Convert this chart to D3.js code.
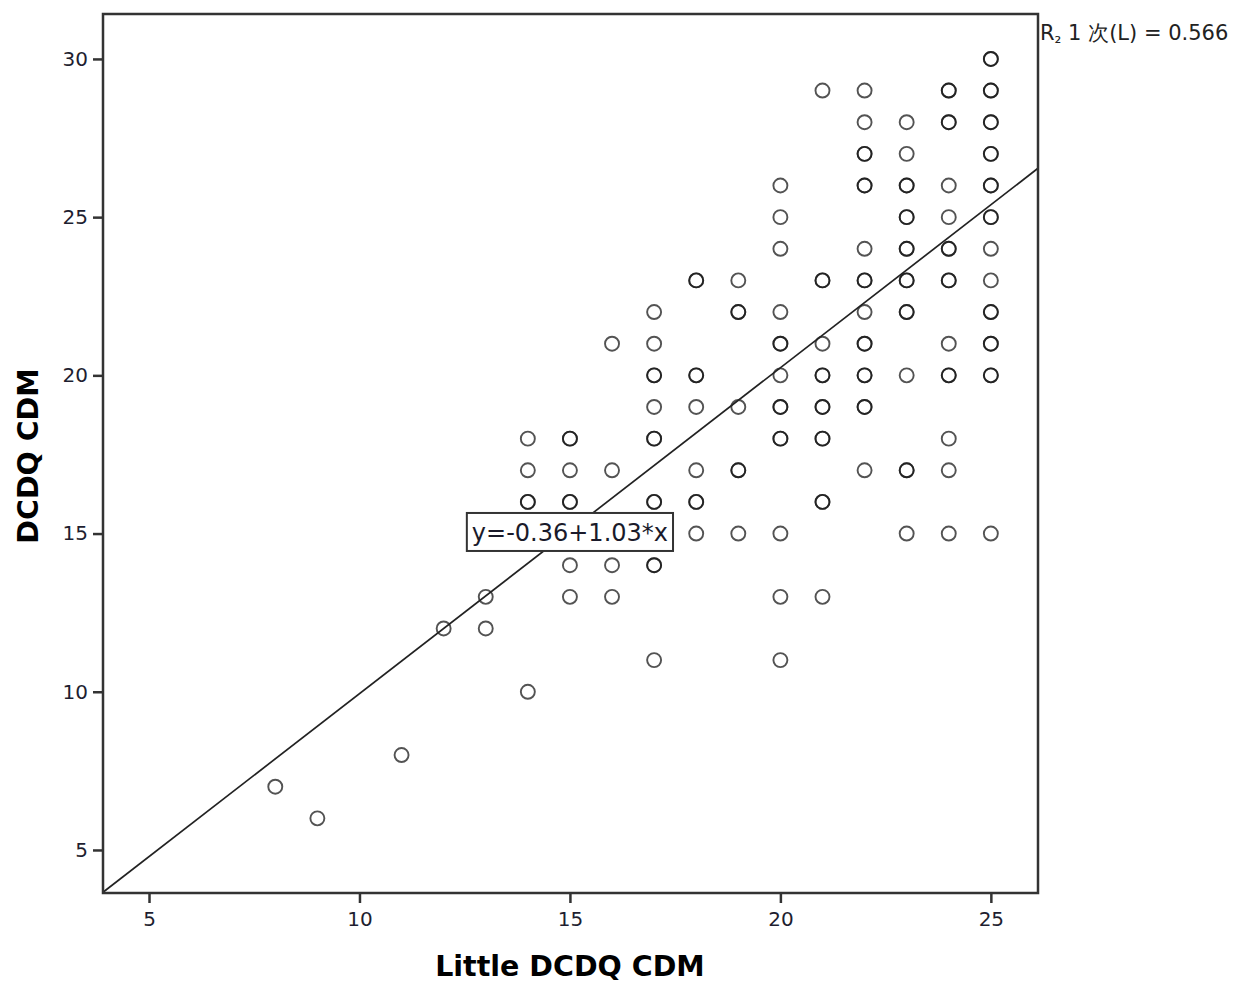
<!DOCTYPE html>
<meta http-equiv="Content-type" content="text/html; charset=UTF-8"/>
<style>
  body { margin: 0; background: #fff; }
  * { font-family: 'DejaVu Sans', sans-serif; }
</style>
<svg width="1242" height="983"></svg>
<script src="https://d3js.org/d3.v7.min.js"></script>
<script>
// x = Little DCDQ CDM, y = DCDQ CDM (repeated pairs = overlapping cases)
var littleCDM = [
  8, 9, 11, 12, 13, 13,
  14, 14, 14, 14, 14,
  15, 15, 15, 15, 15, 15, 15,
  16, 16, 16, 16,
  17, 17, 17, 17, 17, 17, 17, 17, 17, 17, 17, 17,
  18, 18, 18, 18, 18, 18, 18, 18, 18,
  19, 19, 19, 19, 19, 19, 19,
  20, 20, 20, 20, 20, 20, 20, 20, 20, 20, 20, 20, 20, 20,
  21, 21, 21, 21, 21, 21, 21, 21, 21, 21, 21, 21, 21,
  22, 22, 22, 22, 22, 22, 22, 22, 22, 22, 22, 22, 22, 22, 22, 22, 22,
  23, 23, 23, 23, 23, 23, 23, 23, 23, 23, 23, 23, 23, 23, 23, 23,
  24, 24, 24, 24, 24, 24, 24, 24, 24, 24, 24, 24, 24, 24, 24, 24,
  25, 25, 25, 25, 25, 25, 25, 25, 25, 25, 25, 25, 25, 25, 25, 25, 25, 25, 25, 25, 25
];
var dcdqCDM = [
  7, 6, 8, 12, 13, 12,
  18, 17, 16, 16, 10,
  18, 18, 17, 16, 16, 14, 13,
  21, 17, 14, 13,
  22, 21, 20, 20, 19, 18, 18, 16, 16, 14, 14, 11,
  23, 23, 20, 20, 19, 17, 16, 16, 15,
  23, 22, 22, 19, 17, 17, 15,
  26, 25, 24, 22, 21, 21, 20, 19, 19, 18, 18, 15, 13, 11,
  29, 23, 23, 21, 20, 20, 19, 19, 18, 18, 16, 16, 13,
  29, 28, 27, 27, 26, 26, 24, 23, 23, 22, 21, 21, 20, 20, 19, 19, 17,
  28, 27, 26, 26, 25, 25, 24, 24, 23, 23, 22, 22, 20, 17, 17, 15,
  29, 29, 28, 28, 26, 25, 24, 24, 23, 23, 21, 20, 20, 18, 17, 15,
  30, 30, 29, 29, 28, 28, 27, 27, 26, 26, 25, 25, 24, 23, 22, 22, 21, 21, 20, 20, 15
];
var xTicks = [5, 10, 15, 20, 25];
var yTicks = [5, 10, 15, 20, 25, 30];
var intercept = -0.36, slope = 1.03;
var fitLabel = "y=-0.36+1.03*x";
var r2Label = "1 次(L) = 0.566";

var svg = d3.select("svg"),
    margin = {top: 14, right: 204, bottom: 90, left: 103},
    width = +svg.attr("width") - margin.left - margin.right,
    height = +svg.attr("height") - margin.top - margin.bottom,
    g = svg.append("g").attr("transform", "translate(" + margin.left + "," + margin.top + ")");

var x = d3.scaleLinear().domain([3.907, 26.12]).range([0, width]);
var y = d3.scaleLinear().domain([3.64, 31.42]).range([height, 0]);

var data = littleCDM.map(function(v, i) { return {x: v, y: dcdqCDM[i]}; });

// axes
var xAxis = g.append("g")
    .attr("transform", "translate(0," + height + ")")
    .call(d3.axisBottom(x).tickValues(xTicks).tickSize(10).tickSizeOuter(0).tickPadding(9));
var yAxis = g.append("g")
    .call(d3.axisLeft(y).tickValues(yTicks).tickSize(10).tickSizeOuter(0).tickPadding(5));
[xAxis, yAxis].forEach(function(a) {
  a.select(".domain").remove();
  a.selectAll("line").attr("stroke", "#333").attr("stroke-width", 2.5);
  a.selectAll("text").attr("fill", "#1e1e30").style("font-size", "20px");
});

// points
g.append("g").selectAll("circle")
    .data(data)
  .enter().append("circle")
    .attr("cx", function(d) { return x(d.x); })
    .attr("cy", function(d) { return y(d.y); })
    .attr("r", 7)
    .attr("fill", "none")
    .attr("stroke", "#111")
    .attr("stroke-opacity", 0.72)
    .attr("stroke-width", 1.9);

// fit line
var x0 = x.domain()[0], x1 = x.domain()[1];
g.append("line")
    .attr("x1", x(x0)).attr("y1", y(intercept + slope * x0))
    .attr("x2", x(x1)).attr("y2", y(intercept + slope * x1))
    .attr("stroke", "#222")
    .attr("stroke-width", 1.7);

// frame
g.append("rect")
    .attr("width", width).attr("height", height)
    .attr("fill", "none")
    .attr("stroke", "#333")
    .attr("stroke-width", 2.5);

// equation box
var eq = g.append("g").attr("transform", "translate(" + x(15) + "," + y(15.05) + ")");
var eqText = eq.append("text")
    .attr("text-anchor", "middle")
    .attr("dy", "0.36em")
    .attr("fill", "#1a1a2a")
    .style("font-size", "24px")
    .text(fitLabel);
var bb = eqText.node().getBBox();
eq.insert("rect", "text")
    .attr("x", bb.x - 5).attr("y", -19)
    .attr("width", bb.width + 10).attr("height", 38)
    .attr("fill", "#fff")
    .attr("stroke", "#333")
    .attr("stroke-width", 2);

// R² label
var r2 = svg.append("text")
    .attr("x", 1040).attr("y", 40)
    .attr("fill", "#222")
    .style("font-size", "21px")
    .style("font-family", "'DejaVu Sans', 'Noto Sans CJK SC', sans-serif");
r2.append("tspan").text("R");
r2.append("tspan").attr("dy", 3).style("font-size", "17px").text("₂");
r2.append("tspan").attr("dy", -3).text(" " + r2Label);

// axis titles
svg.append("text")
    .attr("x", margin.left + x(15))
    .attr("y", 976)
    .attr("text-anchor", "middle")
    .style("font-size", "28.5px")
    .style("font-weight", "bold")
    .text("Little DCDQ CDM");

svg.append("text")
    .attr("transform", "translate(38," + (margin.top + y(17.45)) + ") rotate(-90)")
    .attr("text-anchor", "middle")
    .style("font-size", "28.5px")
    .style("font-weight", "bold")
    .text("DCDQ CDM");
</script>
